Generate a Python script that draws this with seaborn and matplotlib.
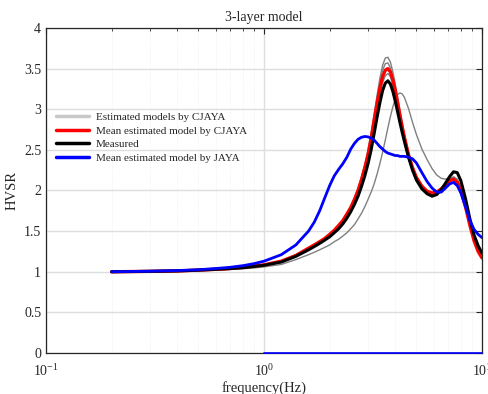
import matplotlib
matplotlib.use('Agg')
import matplotlib.pyplot as plt
from matplotlib.lines import Line2D
import pandas as pd
import numpy as np
import seaborn as sns

# frequency samples shared by all the curves (Hz)
freq = [0.2, 0.3, 0.4, 0.5, 0.6, 0.7, 0.8, 0.9, 1.0, 1.2, 1.4, 1.6,
        1.7, 1.8, 1.9, 2.0, 2.1, 2.2, 2.3, 2.4, 2.5, 2.6, 2.7, 2.8, 2.9,
        3.0, 3.1, 3.2, 3.3, 3.4, 3.5, 3.6, 3.7, 3.8, 3.9, 4.0, 4.1, 4.2, 4.3, 4.4,
        4.6, 4.8, 5.0, 5.3, 5.6, 5.9, 6.2, 6.5, 6.8, 7.1, 7.4, 7.7, 8.0, 8.4, 8.8, 9.2, 9.6, 10.0]

# estimated models by CJAYA (grey curves)
est_1 = [1.00, 1.005, 1.01, 1.02, 1.03, 1.04, 1.055, 1.07, 1.085, 1.13, 1.21, 1.29,
         1.33, 1.37, 1.41, 1.46, 1.51, 1.57, 1.64, 1.72, 1.81, 1.91, 2.03, 2.17, 2.32,
         2.50, 2.71, 2.94, 3.17, 3.38, 3.54, 3.63, 3.64, 3.58, 3.46, 3.31, 3.15, 2.99, 2.84, 2.70,
         2.47, 2.30, 2.18, 2.07, 2.00, 1.97, 1.98, 2.02, 2.07, 2.12, 2.15, 2.11, 2.01, 1.81, 1.58, 1.39, 1.26, 1.18]
est_2 = [1.00, 1.005, 1.01, 1.02, 1.03, 1.04, 1.055, 1.07, 1.085, 1.13, 1.21, 1.29,
         1.33, 1.37, 1.41, 1.45, 1.50, 1.56, 1.62, 1.70, 1.79, 1.89, 2.00, 2.14, 2.29,
         2.46, 2.67, 2.90, 3.12, 3.32, 3.48, 3.56, 3.57, 3.51, 3.40, 3.26, 3.11, 2.96, 2.81, 2.68,
         2.46, 2.29, 2.17, 2.06, 2.00, 1.97, 1.98, 2.02, 2.08, 2.13, 2.16, 2.13, 2.03, 1.83, 1.60, 1.40, 1.27, 1.19]
est_3 = [1.00, 1.005, 1.01, 1.02, 1.03, 1.04, 1.055, 1.07, 1.085, 1.13, 1.20, 1.29,
         1.33, 1.37, 1.41, 1.45, 1.50, 1.55, 1.62, 1.69, 1.77, 1.86, 1.97, 2.10, 2.24,
         2.40, 2.59, 2.80, 3.01, 3.19, 3.33, 3.41, 3.44, 3.40, 3.30, 3.18, 3.04, 2.90, 2.76, 2.63,
         2.42, 2.26, 2.15, 2.04, 1.98, 1.95, 1.96, 2.01, 2.07, 2.13, 2.17, 2.14, 2.04, 1.84, 1.61, 1.41, 1.28, 1.20]
est_4 = [1.00, 1.003, 1.007, 1.013, 1.02, 1.028, 1.037, 1.047, 1.06, 1.09, 1.15, 1.21,
         1.24, 1.27, 1.30, 1.33, 1.37, 1.40, 1.44, 1.48, 1.53, 1.58, 1.65, 1.72, 1.80,
         1.89, 1.98, 2.08, 2.20, 2.33, 2.47, 2.62, 2.77, 2.91, 3.03, 3.12, 3.18, 3.20, 3.19, 3.15,
         3.01, 2.84, 2.69, 2.51, 2.38, 2.27, 2.19, 2.15, 2.14, 2.15, 2.16, 2.12, 2.02, 1.83, 1.61, 1.42, 1.29, 1.21]

# mean estimated model by CJAYA (red)
mean_cjaya = [1.00, 1.005, 1.01, 1.02, 1.03, 1.04, 1.055, 1.07, 1.085, 1.13, 1.20, 1.29,
              1.33, 1.37, 1.41, 1.46, 1.51, 1.57, 1.63, 1.71, 1.79, 1.89, 2.00, 2.13, 2.28,
              2.44, 2.64, 2.86, 3.07, 3.26, 3.40, 3.48, 3.50, 3.46, 3.36, 3.23, 3.08, 2.93, 2.79, 2.66,
              2.44, 2.28, 2.16, 2.05, 1.99, 1.97, 1.98, 2.02, 2.07, 2.12, 2.14, 2.10, 2.00, 1.80, 1.57, 1.38, 1.25, 1.17]

# measured HVSR (black)
measured = [1.00, 1.005, 1.01, 1.02, 1.03, 1.04, 1.05, 1.065, 1.08, 1.12, 1.19, 1.27,
            1.31, 1.35, 1.39, 1.43, 1.48, 1.53, 1.59, 1.66, 1.74, 1.83, 1.93, 2.05, 2.18,
            2.33, 2.50, 2.70, 2.90, 3.08, 3.23, 3.32, 3.35, 3.31, 3.22, 3.10, 2.97, 2.84, 2.72, 2.61,
            2.41, 2.25, 2.13, 2.02, 1.96, 1.93, 1.95, 2.01, 2.09, 2.17, 2.23, 2.22, 2.12, 1.90, 1.65, 1.45, 1.32, 1.23]

# mean estimated model by JAYA (blue)
mean_jaya = [1.00, 1.007, 1.015, 1.025, 1.04, 1.055, 1.075, 1.10, 1.13, 1.21, 1.33, 1.50,
             1.61, 1.75, 1.91, 2.06, 2.18, 2.26, 2.33, 2.41, 2.51, 2.58, 2.63, 2.655, 2.665,
             2.66, 2.645, 2.62, 2.58, 2.54, 2.51, 2.48, 2.46, 2.45, 2.44, 2.43, 2.43, 2.42, 2.42, 2.42,
             2.41, 2.39, 2.34, 2.22, 2.11, 2.03, 1.98, 1.98, 2.03, 2.08, 2.10, 2.06, 1.97, 1.80, 1.63, 1.52, 1.46, 1.42]

# stray blue segment drawn along the bottom axis
base_x = [1.0, 10.0]
base_y = [0.0, 0.0]

sns.set_style('white')
plt.rcParams['font.family'] = ['Liberation Serif', 'DejaVu Serif']
plt.rcParams['mathtext.fontset'] = 'custom'
plt.rcParams['mathtext.rm'] = 'Liberation Serif'

fig = plt.figure(figsize=(4.88, 3.94), dpi=100)
ax = fig.add_axes([0.0943, 0.104, 0.8934, 0.825])

ax.set_xscale('log')
ax.grid(True, which='major', color='#dedede', lw=1.0, ls='-', zorder=0)
ax.grid(True, which='minor', axis='x', color='#ececec', lw=0.6, ls=':', zorder=0)
ax.set_axisbelow(True)

for est in [est_1, est_2, est_3, est_4]:
    sns.lineplot(x=freq, y=est, ax=ax, color='#808080', lw=1.0, legend=False)
sns.lineplot(x=freq, y=mean_cjaya, ax=ax, color='red', lw=2.4, legend=False)
sns.lineplot(x=freq, y=measured, ax=ax, color='black', lw=2.2, legend=False)
sns.lineplot(x=freq, y=mean_jaya, ax=ax, color='blue', lw=2.0, legend=False)
ax.plot(base_x, base_y, color='blue', lw=1.2, clip_on=False, zorder=5)

ax.set_xlim(0.1, 10)
ax.set_ylim(0, 4)
ax.set_yticks([0, 0.5, 1, 1.5, 2, 2.5, 3, 3.5, 4])
ax.set_yticklabels(['0', '0.5', '1', '1.5', '2', '2.5', '3', '3.5', '4'])

ax.tick_params(axis='both', which='both', direction='in', top=True, right=True,
               labelsize=10, colors='#262626')
ax.tick_params(axis='both', which='major', length=4, width=0.8)
ax.tick_params(axis='both', which='minor', length=2.5, width=0.6)
ax.tick_params(axis='x', which='major', pad=7)
for sp in ax.spines.values():
    sp.set_color('#262626')
    sp.set_linewidth(0.9)

ax.set_title('3-layer model', fontsize=10, pad=5)
ax.set_xlabel('frequency(Hz)', fontsize=10.5, labelpad=2)
ax.set_ylabel('HVSR', fontsize=10.5, labelpad=4)

handles = [Line2D([], [], color='#c8c8c8', lw=2.5),
           Line2D([], [], color='red', lw=2.5),
           Line2D([], [], color='black', lw=2.5),
           Line2D([], [], color='blue', lw=2.5)]
labels = ['Estimated models by CJAYA', 'Mean estimated model by CJAYA',
          'Measured', 'Mean estimated model by JAYA']
ax.legend(handles, labels, loc='center left', bbox_to_anchor=(0.005, 0.663),
          frameon=False, fontsize=8, handlelength=3.0, handletextpad=0.6,
          labelspacing=0.35, borderaxespad=0.3)

fig.savefig('out.png', dpi=100)
